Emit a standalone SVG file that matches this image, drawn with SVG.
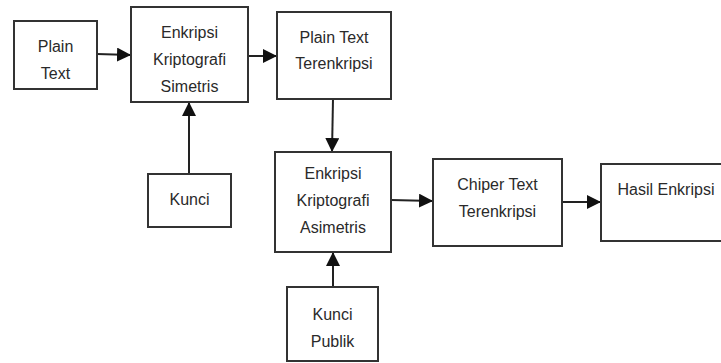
<svg xmlns="http://www.w3.org/2000/svg" width="721" height="363" viewBox="0 0 721 363">
<defs>
<style>
.box{fill:#fff;stroke:#333;stroke-width:2}
.t{font-family:"Liberation Sans",Arial,sans-serif;font-size:16px;fill:#2a2a2a;text-anchor:middle}
.c{stroke:#222;stroke-width:2;fill:none;marker-end:url(#ah)}
</style>
<marker id="ah" markerUnits="userSpaceOnUse" markerWidth="14" markerHeight="14" viewBox="0 0 12 12" refX="12" refY="6" orient="auto">
<path d="M0,0 L12,6 L0,12 Z" fill="#111"/>
</marker>
</defs>
<rect width="721" height="363" fill="#fff"/>
<g id="connectors">
<path class="c" d="M97,54 L131,55"/>
<path class="c" d="M248,56 L277,56"/>
<path class="c" d="M189,174 L189,102"/>
<path class="c" d="M333,99 L332,152"/>
<path class="c" d="M391,200 L433,201"/>
<path class="c" d="M562,202 L601,202"/>
<path class="c" d="M333,287 L333,252"/>
</g>
<g id="plain-text">
<rect class="box" x="14" y="21" width="83" height="68"/>
<text class="t" x="55.5" y="52">Plain</text>
<text class="t" x="55.5" y="79">Text</text>
</g>
<g id="enkripsi-simetris">
<rect class="box" x="131" y="7" width="117" height="95"/>
<text class="t" x="189.5" y="38">Enkripsi</text>
<text class="t" x="189.5" y="65">Kriptografi</text>
<text class="t" x="189.5" y="92">Simetris</text>
</g>
<g id="plain-text-terenkripsi">
<rect class="box" x="277" y="12" width="114" height="87"/>
<text class="t" x="334" y="43">Plain Text</text>
<text class="t" x="334" y="69">Terenkripsi</text>
</g>
<g id="kunci">
<rect class="box" x="148" y="174" width="83" height="53"/>
<text class="t" x="189.5" y="205">Kunci</text>
</g>
<g id="enkripsi-asimetris">
<rect class="box" x="275" y="152" width="116" height="100"/>
<text class="t" x="333" y="179">Enkripsi</text>
<text class="t" x="333" y="206">Kriptografi</text>
<text class="t" x="333" y="233">Asimetris</text>
</g>
<g id="chiper-text">
<rect class="box" x="433" y="159" width="129" height="87"/>
<text class="t" x="497.5" y="190">Chiper Text</text>
<text class="t" x="497.5" y="217">Terenkripsi</text>
</g>
<g id="hasil-enkripsi">
<rect class="box" x="601" y="164" width="130" height="77"/>
<text class="t" x="666" y="195">Hasil Enkripsi</text>
</g>
<g id="kunci-publik">
<rect class="box" x="287" y="287" width="91" height="74"/>
<text class="t" x="332.5" y="320">Kunci</text>
<text class="t" x="332.5" y="347">Publik</text>
</g>
</svg>
